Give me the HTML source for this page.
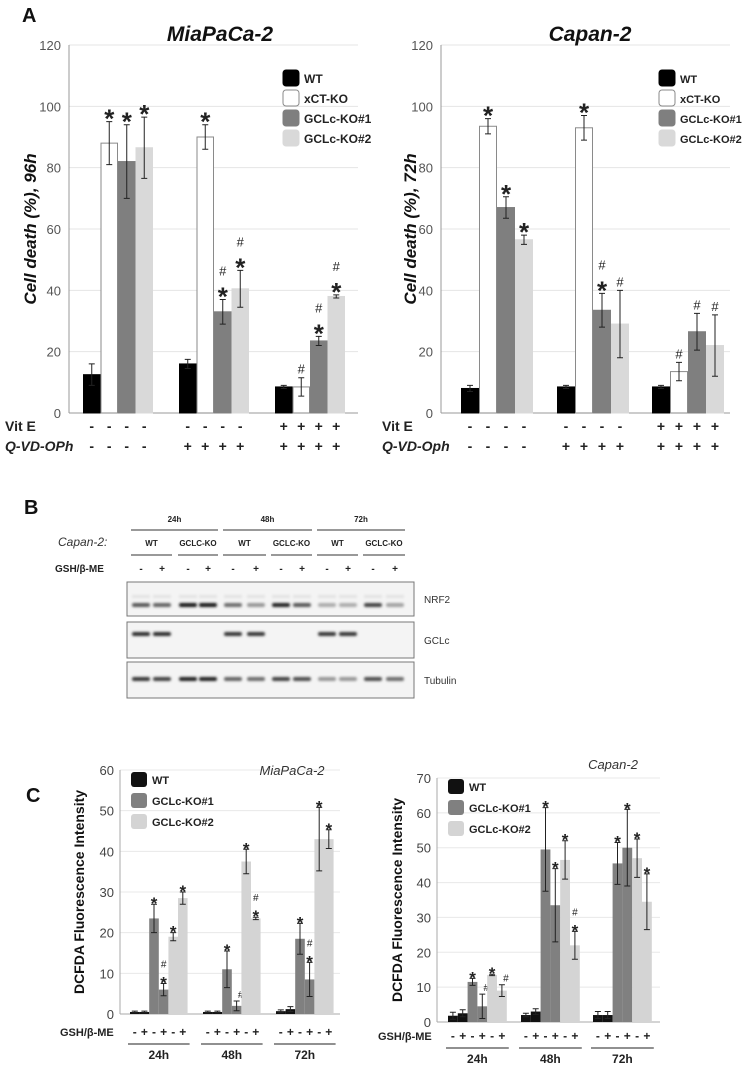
<!DOCTYPE html>
<html><head><meta charset="utf-8">
<style>
html,body{margin:0;padding:0;background:#fff;}
svg{display:block;font-family:"Liberation Sans",sans-serif;}
</style></head>
<body>
<svg id="fig" width="751" height="1066" viewBox="0 0 751 1066" xmlns="http://www.w3.org/2000/svg">
<defs><filter id="blur" x="-20%" y="-100%" width="140%" height="300%"><feGaussianBlur stdDeviation="1.2"/></filter></defs>
</svg>
<script>
// ---------- Panel A data ----------
const aGroups = ["ctrl", "qvd", "vitE+qvd"];
const aSeries = ["WT", "xCT-KO", "GCLc-KO#1", "GCLc-KO#2"];
const aTicks = [0, 20, 40, 60, 80, 100, 120];
const miaVals = [[12.5, 88, 82, 86.5], [16, 90, 33, 40.5], [8.5, 8.5, 23.5, 38]];
const miaErrs = [[3.5, 7, 12, 10], [1.5, 4, 4, 6], [0.5, 3, 1.5, 0.5]];
const miaSig = [["", "*", "*", "*"], ["", "*", "#*", "#*"], ["", "#", "#*", "#*"]];
const capVals = [[8, 93.5, 67, 56.5], [8.5, 93, 33.5, 29], [8.5, 13.5, 26.5, 22]];
const capErrs = [[1, 2.5, 3.5, 1.5], [0.5, 4, 5.5, 11], [0.5, 3, 6, 10]];
const capSig = [["", "*", "*", "*"], ["", "*", "#*", "#"], ["", "#", "#", "#"]];
const vitE = ["-", "-", "+"];
const qvd = ["-", "+", "+"];
// ---------- Panel C data ----------
const cTimes = ["24h", "48h", "72h"];
const cSeries = ["WT", "GCLc-KO#1", "GCLc-KO#2"];
const cGsh = ["-", "+"];
const miaCTicks = [0, 10, 20, 30, 40, 50, 60];
const miaCVals = [[0.5, 0.5, 23.5, 6, 19, 28.5], [0.5, 0.5, 11, 2, 37.5, 23.5], [0.7, 1.2, 18.5, 8.5, 43, 43]];
const miaCErrs = [[0.2, 0.2, 3.5, 1.5, 1, 1.5], [0.2, 0.2, 4.5, 1.2, 3, 0.3], [0.3, 0.6, 3.8, 4.2, 7.8, 2.3]];
const miaCSig = [["", "", "*", "#*", "*", "*"], ["", "", "*", "#", "*", "#*"], ["", "", "*", "#*", "*", "*"]];
const capCTicks = [0, 10, 20, 30, 40, 50, 60, 70];
const capCVals = [[1.8, 2.5, 11.5, 4.5, 13.5, 9], [2, 3, 49.5, 33.5, 46.5, 22], [2, 2, 45.5, 50, 47, 34.5]];
const capCErrs = [[1, 1, 1, 3.5, 0.2, 1.7], [0.5, 0.8, 12, 10.5, 5.5, 4], [1, 1, 6, 11, 5.5, 8]];
const capCSig = [["", "", "*", "#", "*", "#"], ["", "", "*", "*", "*", "#*"], ["", "", "*", "*", "*", "*"]];
// ---------- Panel B data ----------
const bTimes = ["24h", "48h", "72h"];
const bLines = ["WT", "GCLC-KO"];
const nrf2 = [0.7, 0.65, 1, 1, 0.6, 0.4, 0.95, 0.7, 0.3, 0.3, 0.8, 0.35];
const gclc = [0.9, 0.9, 0, 0, 0.85, 0.85, 0, 0, 0.85, 0.85, 0, 0];
const tubulin = [0.85, 0.8, 0.95, 0.95, 0.65, 0.6, 0.8, 0.75, 0.4, 0.4, 0.75, 0.6];

const svg = document.getElementById('fig');
const NS = "http://www.w3.org/2000/svg";
function mk(tag, attrs, parent) {
  const e = document.createElementNS(NS, tag);
  for (const k in attrs) e.setAttribute(k, attrs[k]);
  (parent || svg).appendChild(e);
  return e;
}
function txt(s, x, y, size, opts, parent) {
  const t = mk('text', Object.assign({x: x, y: y, 'font-size': size, fill: '#222'}, opts || {}), parent);
  t.textContent = s;
  return t;
}

// ---------- Panel A ----------
const aFill = ["#000", "#fff", "#7f7f7f", "#d9d9d9"];
const aStroke = ["#000", "#8a8a8a", "#7f7f7f", "#d9d9d9"];
function panelA(cfg, vals, errs, sigs) {
  const g = mk('g', {});
  
  
  const y = v => cfg.y0 - (v / 120) * (cfg.y0 - cfg.yTop);
  aTicks.forEach(tk => {
    if (tk > 0) {
      const gl = mk('line', {x1: cfg.ax, x2: cfg.gx, y1: y(tk), y2: y(tk), stroke: '#e4e4e4', 'stroke-width': 1}, g);
      
      
    }
    const tl = txt(String(tk), cfg.ax - 8, y(tk) + 5, 13, {'text-anchor': 'end', fill: '#555'}, g);
    
    
  });
  const axl = mk('line', {x1: cfg.ax, x2: cfg.ax, y1: cfg.yTop, y2: cfg.y0, stroke: '#999'}, g);
  
  
  const bx = mk('line', {x1: cfg.ax, x2: cfg.gx, y1: cfg.y0, y2: cfg.y0, stroke: '#999'}, g);
  
  
  vals.forEach((grp, gi) => {
    grp.forEach((v, si) => {
      const x = cfg.gs[gi] + si * cfg.bw;
      const r = mk('rect', {x: x + 0.5, y: y(v), width: cfg.bw - 1, height: cfg.y0 - y(v), fill: aFill[si], stroke: aStroke[si], 'stroke-width': 1}, g);
      
      
      const cx = x + cfg.bw / 2, e = errs[gi][si];
      const eb = mk('path', {d: `M${cx},${y(v + e)}V${y(v - e)}M${cx - 3},${y(v + e)}H${cx + 3}M${cx - 3},${y(v - e)}H${cx + 3}`, stroke: '#222', fill: 'none', 'stroke-width': 1}, g);
      
      
      const s = sigs[gi][si];
      let yy = y(v + e) - 6;
      if (s.includes('*')) {
        const st = txt('*', cx, yy + 12, 26, {'text-anchor': 'middle', 'font-weight': 'bold', fill: '#222'}, g);
        
        
        yy -= 20;
      }
      if (s.includes('#')) {
        const h = txt('#', cx, yy + 2, 13, {'text-anchor': 'middle', fill: '#222'}, g);
        
        
      }
    });
    for (let si = 0; si < 4; si++) {
      const cx = cfg.gs[gi] + si * cfg.bw + cfg.bw / 2;
      const a = txt(vitE[gi], cx, cfg.y0 + 18, 14, {'text-anchor': 'middle', 'font-weight': 'bold'}, g);
      
      
      const b = txt(qvd[gi], cx, cfg.y0 + 38, 14, {'text-anchor': 'middle', 'font-weight': 'bold'}, g);
      
      
    }
  });
  const l1 = txt('Vit E', cfg.lx, cfg.y0 + 18, 14, {'font-weight': 'bold'}, g);
  
  
  const l2 = txt(cfg.qlabel, cfg.lx, cfg.y0 + 38, 14, {'font-weight': 'bold', 'font-style': 'italic'}, g);
  
  
  const ttl = txt(cfg.title, cfg.tx, 41, 21, {'text-anchor': 'middle', 'font-weight': 'bold', 'font-style': 'italic', fill: '#111'}, g);
  
  
  const yl = txt(cfg.ylabel, 0, 0, 17, {'text-anchor': 'middle', 'font-weight': 'bold', 'font-style': 'italic', fill: '#111', transform: `translate(${cfg.ylx},${(cfg.yTop + cfg.y0) / 2}) rotate(-90)`}, g);
  
  
  aSeries.forEach((s, si) => {
    const ly = cfg.legY + si * 20;
    const r = mk('rect', {x: cfg.legX, y: ly, width: 16, height: 16, rx: 3, fill: aFill[si], stroke: aStroke[si]}, g);
    
    
    const t = txt(s, cfg.legX + 21, ly + 13, cfg.legFs, {'font-weight': 'bold'}, g);
    
    
  });
}
panelA({name: 'chart-miapaca-cell-death', ax: 69, gx: 358, yTop: 45, y0: 413, gs: [83, 179, 275], bw: 17.5, lx: 5, qlabel: 'Q-VD-OPh', title: 'MiaPaCa-2', tx: 220, ylabel: 'Cell death (%), 96h', ylx: 36, legX: 283, legY: 70, legFs: 12}, miaVals, miaErrs, miaSig);
panelA({name: 'chart-capan-cell-death', ax: 441, gx: 730, yTop: 45, y0: 413, gs: [461, 557, 652], bw: 18, lx: 382, qlabel: 'Q-VD-Oph', title: 'Capan-2', tx: 590, ylabel: 'Cell death (%), 72h', ylx: 416, legX: 659, legY: 70, legFs: 11}, capVals, capErrs, capSig);
const pa = txt('A', 22, 22, 20, {'font-weight': 'bold', fill: '#111'});



// ---------- Panel B ----------
const pb = txt('B', 24, 514, 20, {'font-weight': 'bold', fill: '#111'});


const laneX = [141, 162, 188, 208, 233, 256, 281, 302, 327, 348, 373, 395];
const gb = mk('g', {});


bTimes.forEach((t, ti) => {
  const x1 = laneX[ti * 4] - 10, x2 = laneX[ti * 4 + 3] + 10;
  const tl = txt(t, (x1 + x2) / 2, 522, 8, {'text-anchor': 'middle', 'font-weight': 'bold'}, gb);
  
  
  mk('line', {x1: x1, x2: x2, y1: 530, y2: 530, stroke: '#333'}, gb);
  bLines.forEach((c, ci) => {
    const a = laneX[ti * 4 + ci * 2], b = laneX[ti * 4 + ci * 2 + 1];
    const cl = txt(c, (a + b) / 2, 546, 8, {'text-anchor': 'middle', 'font-weight': 'bold'}, gb);
    
    
    mk('line', {x1: a - 10, x2: b + 10, y1: 555, y2: 555, stroke: '#333'}, gb);
  });
});
laneX.forEach((x, i) => {
  const s = txt(i % 2 ? '+' : '-', x, 572, 10, {'text-anchor': 'middle', 'font-weight': 'bold'}, gb);
  
  
});
const cp = txt('Capan-2:', 58, 546, 12, {'font-style': 'italic', fill: '#333'}, gb);


const gsh = txt('GSH/β-ME', 55, 572, 10, {'font-weight': 'bold'}, gb);


function blot(name, arr, y, h, by, extra) {
  const b = mk('rect', {x: 127, y: y, width: 287, height: h, fill: '#f4f4f4', stroke: '#777'}, gb);
  
  
  arr.forEach((v, i) => {
    if (v <= 0) return;
    const c = Math.round(235 - v * 210);
    const band = mk('rect', {x: laneX[i] - 9, y: by - 2, width: 18, height: 4, rx: 2, fill: `rgb(${c},${c},${c})`, filter: 'url(#blur)'}, gb);
    
    
    if (extra) mk('rect', {x: laneX[i] - 9, y: by - 10, width: 18, height: 3, fill: '#e2e2e2', filter: 'url(#blur)'}, gb);
  });
  const l = txt(name, 424, y + h / 2 + 4, 10, {fill: '#333'}, gb);
  
  
}
blot('NRF2', nrf2, 582, 34, 605, true);
blot('GCLc', gclc, 622, 36, 634, false);
blot('Tubulin', tubulin, 662, 36, 679, false);

// ---------- Panel C ----------
const cFill = ["#111", "#808080", "#d4d4d4"];
function panelC(cfg, ticks, vals, errs, sigs) {
  const g = mk('g', {});
  
  
  const max = ticks[ticks.length - 1];
  const y = v => cfg.y0 - (v / max) * (cfg.y0 - cfg.yTop);
  ticks.forEach(tk => {
    if (tk > 0) {
      const gl = mk('line', {x1: cfg.ax, x2: cfg.gx, y1: y(tk), y2: y(tk), stroke: '#e8e8e8'}, g);
      
      
    }
    const tl = txt(String(tk), cfg.ax - 6, y(tk) + 5, 13, {'text-anchor': 'end', fill: '#444'}, g);
    
    
  });
  const axl = mk('line', {x1: cfg.ax, x2: cfg.ax, y1: cfg.yTop, y2: cfg.y0, stroke: '#aaa'}, g);
  
  
  const bx = mk('line', {x1: cfg.ax, x2: cfg.gx, y1: cfg.y0, y2: cfg.y0, stroke: '#aaa'}, g);
  
  
  vals.forEach((grp, gi) => {
    grp.forEach((v, bi) => {
      const si = Math.floor(bi / 2);
      const x = cfg.gs[gi] + bi * cfg.bw;
      const r = mk('rect', {x: x, y: y(v), width: cfg.bw, height: cfg.y0 - y(v), fill: cFill[si]}, g);
      
      
      const cx = x + cfg.bw / 2, e = errs[gi][bi];
      const eb = mk('path', {d: `M${cx},${y(v + e)}V${y(v - e)}M${cx - 3},${y(v + e)}H${cx + 3}M${cx - 3},${y(v - e)}H${cx + 3}`, stroke: '#222', fill: 'none'}, g);
      
      
      const s = sigs[gi][bi];
      let yy = y(v + e) - 4;
      if (s.includes('*')) {
        const st = txt('*', cx, yy + 9, 17, {'text-anchor': 'middle', 'font-weight': 'bold'}, g);
        
        
        yy -= 13;
      }
      if (s.includes('#')) {
        const h = txt('#', cx + (s === '#' ? 4 : 0), yy + 1, 10, {'text-anchor': 'middle'}, g);
        
        
      }
      const gs = txt(cGsh[bi % 2], cx, cfg.gy, 12, {'text-anchor': 'middle', 'font-weight': 'bold'}, g);
      
      
    });
    const x1 = cfg.gs[gi], x2 = cfg.gs[gi] + 6 * cfg.bw;
    mk('line', {x1: x1 - 2, x2: x2 + 2, y1: cfg.gy + 8, y2: cfg.gy + 8, stroke: '#222'}, g);
    const tl = txt(cTimes[gi], (x1 + x2) / 2, cfg.gy + 23, 12, {'text-anchor': 'middle', 'font-weight': 'bold'}, g);
    
    
  });
  const gl = txt('GSH/β-ME', cfg.gx0, cfg.gy, 11, {'font-weight': 'bold'}, g);
  
  
  const ttl = txt(cfg.title, cfg.tx, cfg.ty, 13, {'text-anchor': 'middle', 'font-style': 'italic', fill: '#333'}, g);
  
  
  const yl = txt('DCFDA Fluorescence Intensity', 0, 0, 14, {'text-anchor': 'middle', 'font-weight': 'bold', fill: '#111', transform: `translate(${cfg.ylx},${(cfg.yTop + cfg.y0) / 2}) rotate(-90)`}, g);
  
  
  cSeries.forEach((s, si) => {
    const ly = cfg.legY + si * 21;
    const r = mk('rect', {x: cfg.legX, y: ly, width: 16, height: 15, rx: 3, fill: cFill[si]}, g);
    
    
    const t = txt(s, cfg.legX + 21, ly + 12, 11, {'font-weight': 'bold'}, g);
    
    
  });
}
panelC({name: 'chart-miapaca-dcfda', ax: 120, gx: 340, yTop: 770, y0: 1014, gs: [130, 203, 276], bw: 9.6, gy: 1036, gx0: 60, title: 'MiaPaCa-2', tx: 292, ty: 775, ylx: 84, legX: 131, legY: 772}, miaCTicks, miaCVals, miaCErrs, miaCSig);
panelC({name: 'chart-capan-dcfda', ax: 437, gx: 660, yTop: 778, y0: 1022, gs: [448, 521, 593], bw: 9.8, gy: 1040, gx0: 378, title: 'Capan-2', tx: 613, ty: 769, ylx: 402, legX: 448, legY: 779}, capCTicks, capCVals, capCErrs, capCSig);
const pc = txt('C', 26, 802, 20, {'font-weight': 'bold', fill: '#111'});


</script>
</body></html>
